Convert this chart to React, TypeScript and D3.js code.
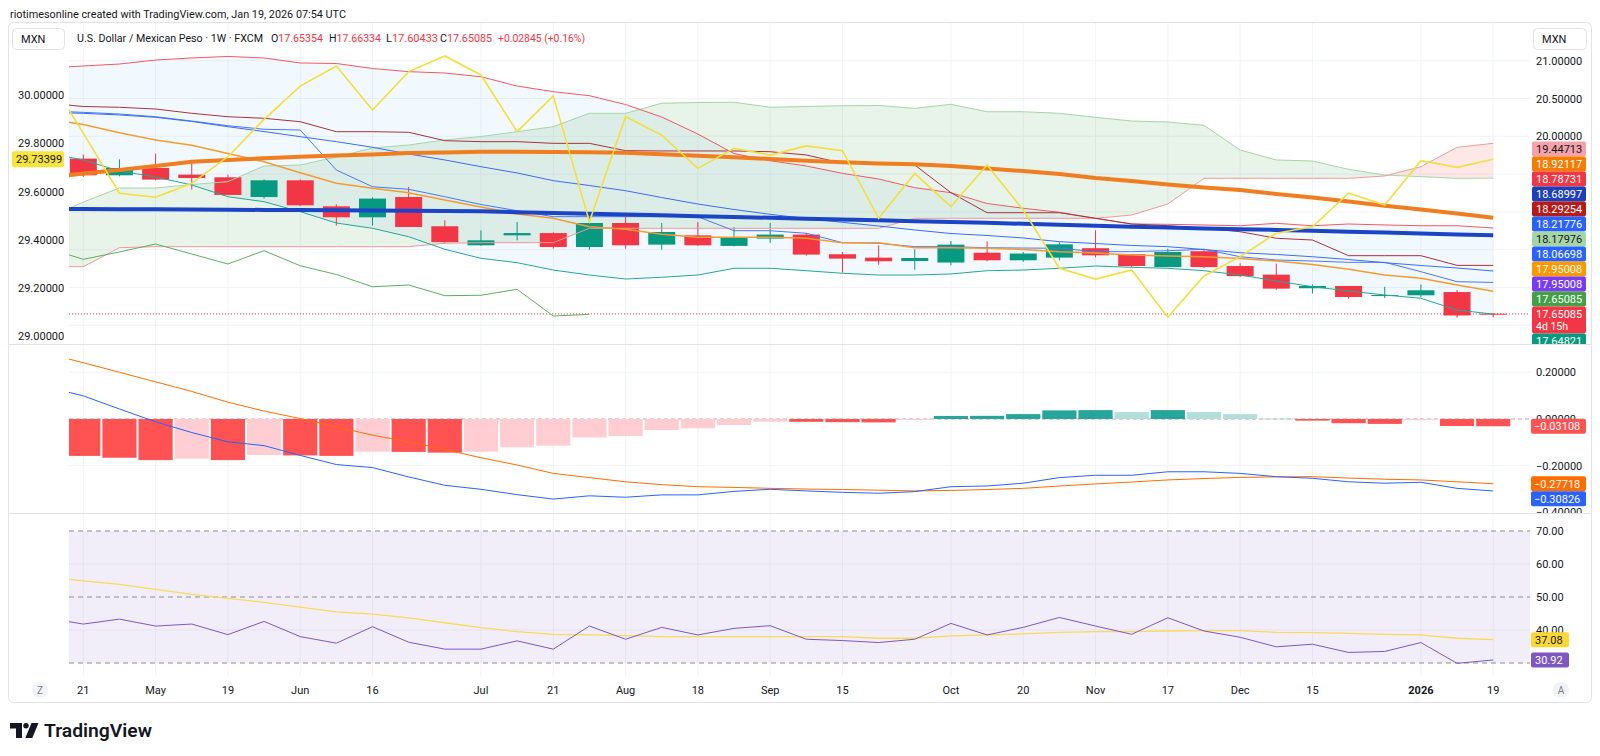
import * as d3 from 'd3';

const FONT = "Roboto, 'Liberation Sans', Arial, sans-serif";
const UP = '#089981';
const DOWN = '#F23645';

// Weekly USD/MXN bars, Apr 21 2025 .. Jan 19 2026
const opens = [19.705, 19.484, 19.581, 19.493, 19.458, 19.197, 19.418, 19.074, 18.929, 19.197, 18.81, 18.558, 18.69, 18.72, 18.535, 18.853, 18.567, 18.69, 18.55, 18.647, 18.70, 18.44, 18.395, 18.35, 18.33, 18.46, 18.36, 18.395, 18.52, 18.44, 18.27, 18.48, 18.284, 18.17, 17.99, 18.02, 17.888, 17.897, 17.94, 17.65354];
const highs = [19.758, 19.696, 19.771, 19.66, 19.493, 19.431, 19.43, 19.10, 19.19, 19.33, 18.89, 18.757, 18.866, 18.73, 18.98, 18.955, 18.853, 18.866, 18.80, 18.853, 18.72, 18.47, 18.558, 18.505, 18.615, 18.61, 18.47, 18.60, 18.757, 18.44, 18.514, 18.514, 18.32, 18.316, 18.04, 18.02, 18.01, 18.04, 17.967, 17.66334];
const lows = [19.462, 19.47, 19.418, 19.295, 19.22, 19.176, 19.078, 18.82, 18.82, 18.80, 18.58, 18.55, 18.624, 18.514, 18.50, 18.514, 18.50, 18.55, 18.545, 18.59, 18.42, 18.197, 18.30, 18.237, 18.294, 18.347, 18.34, 18.36, 18.40, 18.27, 18.27, 18.26, 18.14, 17.97, 17.92, 17.85, 17.86, 17.87, 17.60, 17.60433];
const closes = [19.484, 19.581, 19.427, 19.448, 19.224, 19.418, 19.087, 18.929, 19.176, 18.80, 18.60, 18.624, 18.72, 18.535, 18.853, 18.558, 18.734, 18.558, 18.655, 18.70, 18.435, 18.382, 18.347, 18.39, 18.567, 18.36, 18.449, 18.571, 18.426, 18.284, 18.47, 18.27, 18.15, 17.985, 18.02, 17.874, 17.90, 17.963, 17.63, 17.65085];

// Overlay series start one week before the first visible bar
const upperBand = [20.903, 20.93, 20.956, 21.009, 21.036, 21.056, 21.036, 20.97, 20.963, 20.897, 20.855, 20.837, 20.788, 20.665, 20.59, 20.537, 20.42, 20.255, 20.03, 19.772, 19.677, 19.607, 19.51, 19.435, 19.32, 19.254, 19.111, 19.048, 18.995, 18.915, 18.84, 18.836, 18.827, 18.817, 18.849, 18.817, 18.84, 18.827, 18.817, 18.817, 18.78731];
const lowerBand = [19.779, 19.687, 19.541, 19.462, 19.356, 19.201, 19.135, 19.003, 18.853, 18.783, 18.672, 18.505, 18.386, 18.328, 18.231, 18.165, 18.112, 18.135, 18.165, 18.254, 18.254, 18.222, 18.188, 18.165, 18.165, 18.179, 18.222, 18.231, 18.254, 18.284, 18.267, 18.254, 18.222, 18.165, 18.086, 18.011, 17.954, 17.901, 17.857, 17.702, 17.64821];
const darkRedLine = [20.44, 20.394, 20.384, 20.361, 20.304, 20.259, 20.238, 20.193, 20.061, 20.061, 20.053, 19.942, 19.929, 19.929, 19.907, 19.907, 19.81, 19.806, 19.806, 19.806, 19.796, 19.753, 19.643, 19.643, 19.62, 19.254, 18.989, 18.989, 18.989, 18.915, 18.84, 18.817, 18.783, 18.738, 18.651, 18.628, 18.421, 18.421, 18.421, 18.293, 18.29254];
const stepBlue = [20.335, 20.317, 20.295, 20.259, 20.202, 20.14, 20.093, 20.083, 19.554, 19.333, 19.299, 19.201, 19.098, 19.016, 18.937, 18.937, 18.937, 18.937, 18.937, 18.751, 18.751, 18.717, 18.593, 18.585, 18.54, 18.54, 18.526, 18.522, 18.519, 18.474, 18.474, 18.487, 18.505, 18.407, 18.364, 18.35, 18.333, 18.333, 18.209, 18.077, 18.06698];
const smoothBlue = [20.315, 20.304, 20.282, 20.251, 20.196, 20.127, 20.063, 19.995, 19.929, 19.855, 19.766, 19.687, 19.598, 19.515, 19.413, 19.349, 19.28, 19.19, 19.104, 19.032, 18.968, 18.913, 18.862, 18.813, 18.761, 18.714, 18.688, 18.655, 18.606, 18.582, 18.556, 18.54, 18.503, 18.46, 18.437, 18.407, 18.37, 18.328, 18.291, 18.258, 18.21776];
const thinOrange = [20.229, 20.156, 20.048, 19.951, 19.881, 19.772, 19.664, 19.519, 19.378, 19.312, 19.254, 19.157, 19.065, 18.972, 18.915, 18.804, 18.77, 18.704, 18.664, 18.664, 18.664, 18.651, 18.593, 18.593, 18.526, 18.526, 18.519, 18.503, 18.474, 18.456, 18.43, 18.417, 18.407, 18.384, 18.35, 18.304, 18.241, 18.165, 18.122, 18.033, 17.95008];
const smaOrange = [19.455, 19.507, 19.554, 19.607, 19.664, 19.687, 19.709, 19.73, 19.746, 19.759, 19.779, 19.786, 19.796, 19.796, 19.792, 19.788, 19.783, 19.762, 19.742, 19.722, 19.7, 19.677, 19.656, 19.64, 19.63, 19.607, 19.574, 19.541, 19.501, 19.448, 19.409, 19.362, 19.323, 19.29, 19.238, 19.19, 19.138, 19.082, 19.032, 18.979, 18.92117];
const smaBlue = [19.040, 19.038, 19.036, 19.034, 19.031, 19.029, 19.026, 19.024, 19.021, 19.018, 19.015, 19.012, 19.007, 18.996, 18.985, 18.976, 18.966, 18.955, 18.944, 18.933, 18.922, 18.910, 18.899, 18.888, 18.877, 18.866, 18.855, 18.843, 18.830, 18.817, 18.804, 18.793, 18.782, 18.772, 18.761, 18.750, 18.738, 18.726, 18.714, 18.702, 18.68997];
const spanA = [18.919, 19.13, 19.316, 19.316, 19.362, 19.4, 19.607, 19.62, 19.726, 19.845, 19.885, 19.951, 19.997, 20.061, 20.127, 20.304, 20.304, 20.437, 20.447, 20.45, 20.384, 20.394, 20.405, 20.407, 20.37, 20.423, 20.325, 20.325, 20.304, 20.251, 20.202, 20.189, 20.145, 19.819, 19.687, 19.673, 19.563, 19.488, 19.466, 19.444, 19.44713];
const spanB = [18.275, 18.275, 18.526, 18.54, 18.54, 18.54, 18.54, 18.54, 18.54, 18.54, 18.54, 18.585, 18.593, 18.593, 18.593, 18.783, 18.783, 18.783, 18.783, 18.783, 18.783, 18.783, 18.783, 18.783, 18.915, 18.915, 18.915, 18.915, 18.915, 18.915, 18.959, 19.104, 19.444, 19.444, 19.444, 19.444, 19.444, 19.475, 19.598, 19.854, 19.907];
const laggingSpan = [18.522, 18.373, 18.47, 18.575, 18.443, 18.311, 18.487, 18.288, 18.172, 18.01, 18.033, 17.892, 17.897, 17.976, 17.623, 17.645];
// comparison symbol on the left scale
const compareLine = [30.083, 29.842, 29.593, 29.576, 29.634, 29.744, 29.899, 30.037, 30.12, 29.938, 30.097, 30.162, 30.083, 29.848, 29.996, 29.475, 29.91, 29.834, 29.696, 29.779, 29.751, 29.789, 29.769, 29.489, 29.675, 29.537, 29.71, 29.523, 29.282, 29.237, 29.275, 29.079, 29.25, 29.33, 29.427, 29.454, 29.593, 29.544, 29.728, 29.7, 29.73399];

// MACD
const macdLine = [0.137, 0.099, 0.043, -0.012, -0.058, -0.098, -0.114, -0.156, -0.195, -0.208, -0.248, -0.284, -0.301, -0.324, -0.343, -0.329, -0.335, -0.325, -0.325, -0.31, -0.301, -0.308, -0.314, -0.318, -0.311, -0.29, -0.287, -0.275, -0.251, -0.241, -0.241, -0.226, -0.226, -0.233, -0.247, -0.254, -0.269, -0.275, -0.271, -0.297, -0.30826];
const signalLine = [0.281, 0.241, 0.2, 0.159, 0.118, 0.072, 0.034, 0.002, -0.034, -0.069, -0.098, -0.13, -0.166, -0.197, -0.233, -0.251, -0.269, -0.281, -0.29, -0.293, -0.297, -0.3, -0.302, -0.305, -0.308, -0.306, -0.302, -0.297, -0.287, -0.278, -0.27, -0.261, -0.255, -0.25, -0.248, -0.247, -0.253, -0.258, -0.261, -0.269, -0.27718];
const histogram = [-0.158, -0.166, -0.176, -0.170, -0.176, -0.154, -0.156, -0.158, -0.140, -0.141, -0.144, -0.140, -0.121, -0.114, -0.079, -0.073, -0.047, -0.040, -0.026, -0.011, -0.012, -0.0135, -0.0145, -0.004, 0.013, 0.0135, 0.021, 0.037, 0.038, 0.030, 0.038, 0.030, 0.021, 0.002, -0.007, -0.018, -0.021, -0.005, -0.030, -0.03108];

// RSI
const rsiLine = [43.6, 41.8, 43.3, 41.2, 41.8, 38.6, 42.6, 38.0, 36.0, 41.0, 36.3, 34.2, 34.2, 36.7, 34.2, 41.2, 37.2, 40.8, 38.5, 40.5, 41.3, 37.2, 36.8, 36.2, 37.2, 42.0, 38.5, 40.8, 43.8, 41.2, 38.7, 43.7, 39.7, 37.8, 34.9, 35.7, 33.2, 33.5, 36.2, 29.9, 30.92];
const rsiMa = [56.0, 54.9, 53.8, 52.3, 50.8, 49.6, 48.4, 46.9, 45.5, 44.8, 43.7, 42.2, 40.7, 39.5, 38.7, 38.5, 38.3, 38.0, 38.0, 38.0, 38.0, 38.0, 38.0, 37.5, 37.5, 38.2, 38.5, 38.8, 39.3, 39.5, 39.5, 39.7, 39.8, 39.8, 39.3, 39.2, 39.0, 38.7, 38.5, 37.5, 37.08];

// axes
const timeTickIdx = [0, 2, 4, 6, 8, 11, 13, 15, 17, 19, 21, 24, 26, 28, 30, 32, 34, 37, 39];
const timeTickText = ['21', 'May', '19', 'Jun', '16', 'Jul', '21', 'Aug', '18', 'Sep', '15', 'Oct', '20', 'Nov', '17', 'Dec', '15', '2026', '19'];
const rightTicks = [17.5, 18, 18.5, 19, 19.5, 20, 20.5, 21];
const leftTicks = [29, 29.2, 29.4, 29.6, 29.8, 30];
const macdTicks = [0.2, 0, -0.2, -0.4];
const rsiTicks = [70, 60, 50, 40];

const priceLabels = [
  { v: 19.44713, bg: '#f5a3a9', fg: '#131722' },
  { v: 18.92117, bg: '#f57c00', fg: '#fff' },
  { v: 18.78731, bg: '#f23645', fg: '#fff' },
  { v: 18.68997, bg: '#1e3fba', fg: '#fff' },
  { v: 18.29254, bg: '#b71c1c', fg: '#fff' },
  { v: 18.21776, bg: '#2962ff', fg: '#fff' },
  { v: 18.17976, bg: '#a5d6a7', fg: '#131722' },
  { v: 18.06698, bg: '#2962ff', fg: '#fff' },
  { v: 17.95008, bg: '#ff9800', fg: '#fff' },
  { v: 17.95008, bg: '#7a3cf0', fg: '#fff' },
  { v: 17.65085, bg: '#43a047', fg: '#fff' },
  { v: 17.65085, bg: '#f23645', fg: '#fff', sub: '4d 15h' },
  { v: 17.64821, bg: '#089981', fg: '#fff' },
];
const macdLabels = [
  { v: -0.03108, bg: '#ff5252', fg: '#fff' },
  { v: -0.27718, bg: '#ff6d00', fg: '#fff' },
  { v: -0.30826, bg: '#2962ff', fg: '#fff' },
];
const rsiLabels = [
  { v: 37.08, bg: '#fdd835', fg: '#131722' },
  { v: 30.92, bg: '#7e57c2', fg: '#fff' },
];

const PL = 69, PR = 1530;
const MAIN = [23, 344], MACD = [345, 513], RSI = [514, 676];

const x = d3.scaleLinear().domain([0, 39]).range([83.3, 1493.2]);
const yR = d3.scaleLinear().domain([17, 21]).range([363.1, 60.7]);
const yL = d3.scaleLinear().domain([29, 30]).range([336.25, 95]);
const yM = d3.scaleLinear().domain([-0.2, 0.2]).range([465.7, 372.3]);
const yS = d3.scaleLinear().domain([30, 70]).range([663, 531]);

const step = x(1) - x(0);
const fmt5 = (v: number) => v.toFixed(5).replace('-', '\u2212');

function path(arr: number[], y: (v: number) => number) {
  return d3.line<number>().x((_, i) => x(i - 1)).y((v) => y(v))(arr) || '';
}

// stack axis labels so they never overlap, the anchor stays on its value
function stackTops(items: { v: number; sub?: string }[], y: (v: number) => number, anchor: number) {
  const hs = items.map((it) => (it.sub ? 27 : 15));
  const tops = items.map((it) => y(it.v) - 7.5);
  for (let k = anchor - 1; k >= 0; k--) tops[k] = Math.min(tops[k], tops[k + 1] - hs[k]);
  for (let k = anchor + 1; k < items.length; k++) tops[k] = Math.max(tops[k], tops[k - 1] + hs[k - 1]);
  return { tops, hs };
}

function histColor(i: number) {
  const v = histogram[i];
  const prev = i > 0 ? histogram[i - 1] : -0.15;
  if (v >= 0) return v >= prev ? '#26a69a' : '#b2dfdb';
  return v < prev ? '#ff5252' : '#ffcdd2';
}

export default function App() {
  const cloudBand = d3.area<number>()
    .x((_, i) => x(i - 1)).y0((v) => yR(v)).y1((_, i) => yR(spanB[i]))(spanA) || '';
  const aboveB = d3.area<number>().x((_, i) => x(i - 1)).y0(0).y1((v) => yR(v))(spanB) || '';
  const belowB = d3.area<number>().x((_, i) => x(i - 1)).y0((v) => yR(v)).y1(800)(spanB) || '';
  const bandFill = d3.area<number>()
    .x((_, i) => x(i - 1)).y0((v) => yR(v)).y1((_, i) => yR(lowerBand[i]))(upperBand) || '';
  const rsiFill = `M${PL},${yS(70)}H${PR}V${yS(30)}H${PL}Z`;

  const pStack = stackTops(priceLabels, yR, 11);
  const mStack = stackTops(macdLabels, yM, 0);
  const sStack = stackTops(rsiLabels, yS, 0);
  const last = closes[closes.length - 1];

  // price ticks hidden behind the stacked value labels are not drawn
  const stackTop = pStack.tops[0];
  const visibleRight = rightTicks.filter((t) => yR(t) + 5 < stackTop);

  return (
    <div style={{ position: 'absolute', left: 0, top: 0 }}>
      <svg width={1600} height={756} style={{ display: 'block', background: '#fff' }} fontFamily={FONT}>
        <defs>
          <clipPath id="cMain"><rect x={PL} y={MAIN[0]} width={PR - PL} height={MAIN[1] - MAIN[0]} /></clipPath>
          <clipPath id="cMainAxis"><rect x={0} y={MAIN[0]} width={1591} height={MAIN[1] - MAIN[0]} /></clipPath>
          <clipPath id="cMacd"><rect x={PL} y={MACD[0]} width={PR - PL} height={MACD[1] - MACD[0]} /></clipPath>
          <clipPath id="cMacdAxis"><rect x={0} y={MACD[0]} width={1591} height={MACD[1] - MACD[0]} /></clipPath>
          <clipPath id="cRsi"><rect x={PL} y={RSI[0]} width={PR - PL} height={RSI[1] - RSI[0]} /></clipPath>
          <clipPath id="cAbove"><path d={aboveB} /></clipPath>
          <clipPath id="cBelow"><path d={belowB} /></clipPath>
        </defs>

        {/* header */}
        <text x={10} y={18} fontSize={11} fill="#131722" textLength={336} lengthAdjust="spacingAndGlyphs">
          riotimesonline created with TradingView.com, Jan 19, 2026 07:54 UTC
        </text>
        <rect x={8.5} y={22.5} width={1583} height={680} rx={5} fill="none" stroke="#e0e3eb" />

        {/* grid */}
        {timeTickIdx.map((i) => (
          <line key={'vg' + i} x1={x(i)} x2={x(i)} y1={MAIN[0]} y2={RSI[1]} stroke="#f0f3fa" />
        ))}
        {rightTicks.map((t) => (
          <line key={'hg' + t} x1={PL} x2={PR} y1={yR(t)} y2={yR(t)} stroke="#f0f3fa" />
        ))}
        {[0.2, -0.2].map((t) => (
          <line key={'mg' + t} x1={PL} x2={PR} y1={yM(t)} y2={yM(t)} stroke="#f0f3fa" />
        ))}
        <line x1={8} x2={1591} y1={MAIN[1] + 0.5} y2={MAIN[1] + 0.5} stroke="#e0e3eb" />
        <line x1={8} x2={1591} y1={MACD[1] + 0.5} y2={MACD[1] + 0.5} stroke="#e0e3eb" />

        {/* main pane */}
        <g clipPath="url(#cMain)">
          <path d={bandFill} fill="rgba(33,150,243,0.06)" />
          <g clipPath="url(#cAbove)"><path d={cloudBand} fill="rgba(67,160,71,0.12)" /></g>
          <g clipPath="url(#cBelow)"><path d={cloudBand} fill="rgba(244,67,54,0.12)" /></g>

          {opens.map((o, i) => {
            const c = closes[i];
            const col = c >= o ? UP : DOWN;
            const top = yR(Math.max(o, c));
            const h = Math.max(1, yR(Math.min(o, c)) - top);
            return (
              <g key={'c' + i}>
                <line x1={x(i)} x2={x(i)} y1={yR(highs[i])} y2={yR(lows[i])} stroke={col} />
                <rect x={x(i) - 13.5} y={top} width={27} height={h} fill={col} />
              </g>
            );
          })}

          <line x1={PL} x2={PR} y1={yR(last)} y2={yR(last)} stroke={DOWN} strokeDasharray="1 2" />

          <path d={path(spanA, yR)} fill="none" stroke="#a5d6a7" strokeWidth={1} />
          <path d={path(spanB, yR)} fill="none" stroke="#ef9a9a" strokeWidth={1} />
          <path d={path(upperBand, yR)} fill="none" stroke="#ef5a64" strokeWidth={1} />
          <path d={path(lowerBand, yR)} fill="none" stroke="#26a69a" strokeWidth={1} />
          <path d={path(laggingSpan, yR)} fill="none" stroke="#5fae63" strokeWidth={1} />
          <path d={path(darkRedLine, yR)} fill="none" stroke="#a8323a" strokeWidth={1} />
          <path d={path(stepBlue, yR)} fill="none" stroke="#4a78f5" strokeWidth={1} />
          <path d={path(smoothBlue, yR)} fill="none" stroke="#3a6cf5" strokeWidth={1} />
          <path d={path(thinOrange, yR)} fill="none" stroke="#f59b30" strokeWidth={1.5} />
          <path d={path(smaBlue, yR)} fill="none" stroke="#1c45c6" strokeWidth={4} />
          <path d={path(smaOrange, yR)} fill="none" stroke="#f07d1f" strokeWidth={4} />
          <path d={path(compareLine, yL)} fill="none" stroke="#f3df3c" strokeWidth={1.6} />
        </g>

        {/* MACD pane */}
        <g clipPath="url(#cMacd)">
          <line x1={PL} x2={PR} y1={yM(0)} y2={yM(0)} stroke="#c9a0a5" strokeDasharray="4 3" />
          {histogram.map((v, i) => (
            <rect key={'h' + i} x={x(i) - step / 2 + 1} width={step - 2}
              y={Math.min(yM(0), yM(v))} height={Math.max(1, Math.abs(yM(v) - yM(0)))} fill={histColor(i)} />
          ))}
          <path d={path(signalLine, yM)} fill="none" stroke="#ff6d00" strokeWidth={1} />
          <path d={path(macdLine, yM)} fill="none" stroke="#2962ff" strokeWidth={1} />
        </g>

        {/* RSI pane */}
        <g clipPath="url(#cRsi)">
          <path d={rsiFill} fill="rgba(126,87,194,0.1)" />
          {[60, 40].map((t) => (
            <line key={'rg' + t} x1={PL} x2={PR} y1={yS(t)} y2={yS(t)} stroke="#e6e1f3" />
          ))}
          {[70, 50, 30].map((t) => (
            <line key={'rd' + t} x1={PL} x2={PR} y1={yS(t)} y2={yS(t)} stroke="#8a8d96" strokeDasharray="5 4" />
          ))}
          <path d={path(rsiMa, yS)} fill="none" stroke="#fbd95a" strokeWidth={1.3} />
          <path d={path(rsiLine, yS)} fill="none" stroke="#7e57c2" strokeWidth={1} />
        </g>

        {/* left axis */}
        {leftTicks.map((t) => (
          <text key={'lt' + t} x={18} y={yL(t) + 4} fontSize={11} fill="#131722">{t.toFixed(5)}</text>
        ))}
        <rect x={12} y={yL(29.73399) - 8} width={52} height={16} rx={2} fill="#f7e43c" />
        <text x={16} y={yL(29.73399) + 4} fontSize={11} fill="#131722">29.73399</text>

        {/* right axis */}
        <g clipPath="url(#cMainAxis)">
          {visibleRight.map((t) => (
            <text key={'rt' + t} x={1536} y={yR(t) + 4} fontSize={11} fill="#131722">{t.toFixed(5)}</text>
          ))}
          {priceLabels.map((lb, k) => (
            <g key={'pl' + k}>
              <rect x={1532} y={pStack.tops[k]} width={54} height={pStack.hs[k]} rx={2} fill={lb.bg} />
              <text x={1536} y={pStack.tops[k] + 11.5} fontSize={11} fill={lb.fg}>{lb.v.toFixed(5)}</text>
              {lb.sub && <text x={1536} y={pStack.tops[k] + 24} fontSize={10.5} fill={lb.fg}>{lb.sub}</text>}
            </g>
          ))}
        </g>
        <g clipPath="url(#cMacdAxis)">
          {macdTicks.map((t) => (
            <text key={'mt' + t} x={1536} y={yM(t) + 4} fontSize={11} fill="#131722">{fmt5(t)}</text>
          ))}
          {macdLabels.map((lb, k) => (
            <g key={'ml' + k}>
              <rect x={1531} y={mStack.tops[k]} width={55} height={15} rx={2} fill={lb.bg} />
              <text x={1534} y={mStack.tops[k] + 11.5} fontSize={11} fill={lb.fg}>{fmt5(lb.v)}</text>
            </g>
          ))}
        </g>
        {rsiTicks.map((t) => (
          <text key={'st' + t} x={1536} y={yS(t) + 4} fontSize={11} fill="#131722">{t.toFixed(2)}</text>
        ))}
        {rsiLabels.map((lb, k) => (
          <g key={'sl' + k}>
            <rect x={1531} y={sStack.tops[k]} width={38} height={15} rx={2} fill={lb.bg} />
            <text x={1535} y={sStack.tops[k] + 11.5} fontSize={11} fill={lb.fg}>{lb.v.toFixed(2)}</text>
          </g>
        ))}

        {/* legend */}
        <rect x={12.5} y={28.5} width={52} height={21} rx={4} fill="#fff" stroke="#e0e3eb" />
        <text x={21} y={43} fontSize={11} fill="#131722">MXN</text>
        <rect x={1533.5} y={28.5} width={53} height={21} rx={4} fill="#fff" stroke="#e0e3eb" />
        <text x={1542} y={43} fontSize={11} fill="#131722">MXN</text>
        <text x={77} y={42} fontSize={11} fill="#131722" textLength={186} lengthAdjust="spacingAndGlyphs">
          U.S. Dollar / Mexican Peso · 1W · FXCM
        </text>
        {[
          ['O', opens[39], 271],
          ['H', highs[39], 329],
          ['L', lows[39], 386],
          ['C', closes[39], 440],
        ].map(([k, v, px]) => (
          <text key={'ohlc' + k} x={px as number} y={42} fontSize={11} fill="#131722"
            textLength={52} lengthAdjust="spacingAndGlyphs">
            {k as string}<tspan fill={DOWN}>{(v as number).toFixed(5)}</tspan>
          </text>
        ))}
        <text x={498} y={42} fontSize={11} fill={DOWN} textLength={87} lengthAdjust="spacingAndGlyphs">+0.02845 (+0.16%)</text>

        {/* time axis */}
        {timeTickIdx.map((i, k) => (
          <text key={'tt' + k} x={x(i)} y={694} fontSize={11} textAnchor="middle" fill="#131722"
            fontWeight={timeTickText[k] === '2026' ? 700 : 400}>{timeTickText[k]}</text>
        ))}
        <circle cx={40} cy={690} r={8} fill="#f0f3fa" />
        <text x={40} y={694} fontSize={10} textAnchor="middle" fill="#787b86">Z</text>
        <circle cx={1561} cy={690} r={8} fill="#f0f3fa" />
        <text x={1561} y={694} fontSize={10} textAnchor="middle" fill="#787b86">A</text>

        {/* footer logo */}
        <g fill="#131722">
          <path d="M10 723 h12 v15 h-6 v-9.5 h-6 z" />
          <circle cx={26} cy={725.7} r={2.7} />
          <path d="M31.5 723 h7 l-6.2 15 h-7 z" />
        </g>
        <text x={44} y={737} fontSize={18} fontWeight={600} fill="#131722" textLength={108} lengthAdjust="spacingAndGlyphs">TradingView</text>
      </svg>
    </div>
  );
}
